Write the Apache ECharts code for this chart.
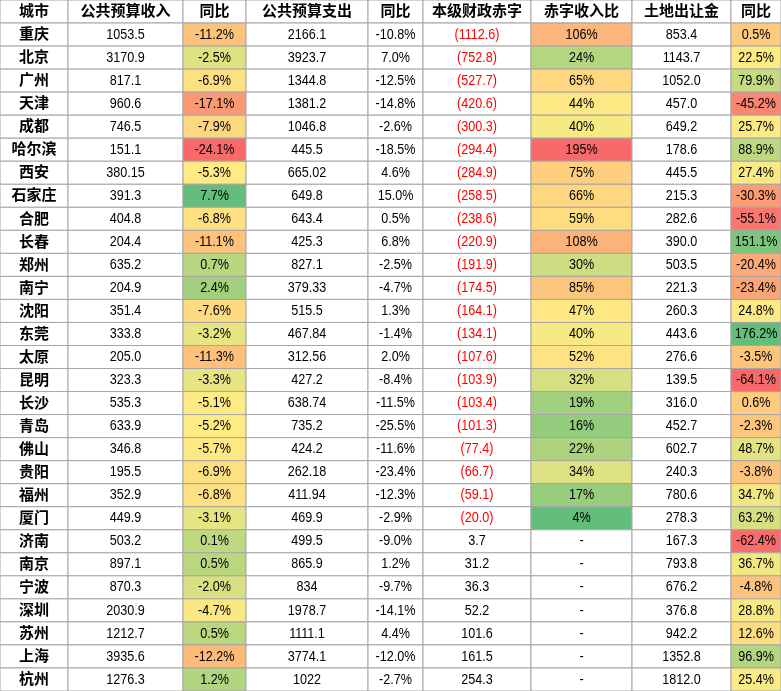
<!DOCTYPE html>
<html lang="zh-CN" style="height: 100%">
<head>
  <meta charset="utf-8">
</head>
<body style="height: 100%; margin: 0; background: #fff">
  <div id="container" style="width: 781px; height: 691px"></div>
  <script type="text/javascript" src="https://fastly.jsdelivr.net/npm/echarts@6.0.0/dist/echarts.min.js"></script>
  <script type="text/javascript">
const headers = ['城市', '公共预算收入', '同比', '公共预算支出', '同比', '本级财政赤字', '赤字收入比', '土地出让金', '同比'];
const cities = ['重庆','北京','广州','天津','成都','哈尔滨','西安','石家庄','合肥','长春','郑州','南宁','沈阳','东莞','太原','昆明','长沙','青岛','佛山','贵阳','福州','厦门','济南','南京','宁波','深圳','苏州','上海','杭州'];
const revenue = ['1053.5','3170.9','817.1','960.6','746.5','151.1','380.15','391.3','404.8','204.4','635.2','204.9','351.4','333.8','205.0','323.3','535.3','633.9','346.8','195.5','352.9','449.9','503.2','897.1','870.3','2030.9','1212.7','3935.6','1276.3'];
const revenueYoy = [-11.2,-2.5,-6.9,-17.1,-7.9,-24.1,-5.3,7.7,-6.8,-11.1,0.7,2.4,-7.6,-3.2,-11.3,-3.3,-5.1,-5.2,-5.7,-6.9,-6.8,-3.1,0.1,0.5,-2.0,-4.7,0.5,-12.2,1.2];
const spending = ['2166.1','3923.7','1344.8','1381.2','1046.8','445.5','665.02','649.8','643.4','425.3','827.1','379.33','515.5','467.84','312.56','427.2','638.74','735.2','424.2','262.18','411.94','469.9','499.5','865.9','834','1978.7','1111.1','3774.1','1022'];
const spendingYoy = [-10.8,7.0,-12.5,-14.8,-2.6,-18.5,4.6,15.0,0.5,6.8,-2.5,-4.7,1.3,-1.4,2.0,-8.4,-11.5,-25.5,-11.6,-23.4,-12.3,-2.9,-9.0,1.2,-9.7,-14.1,4.4,-12.0,-2.7];
const deficit = [-1112.6,-752.8,-527.7,-420.6,-300.3,-294.4,-284.9,-258.5,-238.6,-220.9,-191.9,-174.5,-164.1,-134.1,-107.6,-103.9,-103.4,-101.3,-77.4,-66.7,-59.1,-20.0,3.7,31.2,36.3,52.2,101.6,161.5,254.3];
const deficitRatio = [106,24,65,44,40,195,75,66,59,108,30,85,47,40,52,32,19,16,22,34,17,4,null,null,null,null,null,null,null];
const land = ['853.4','1143.7','1052.0','457.0','649.2','178.6','445.5','215.3','282.6','390.0','503.5','221.3','260.3','443.6','276.6','139.5','316.0','452.7','602.7','240.3','780.6','278.3','167.3','793.8','676.2','376.8','942.2','1352.8','1812.0'];
const landYoy = [0.5,22.5,79.9,-45.2,25.7,88.9,27.4,-30.3,-55.1,151.1,-20.4,-23.4,24.8,176.2,-3.5,-64.1,0.6,-2.3,48.7,-3.8,34.7,63.2,-62.4,36.7,-4.8,28.8,12.6,96.9,25.4];

// layout
const colEdges = [0, 68, 183, 246, 368, 423, 531, 632, 731, 781];
const RED = [248, 105, 107], YEL = [255, 235, 132], GRN = [99, 190, 123];

function median(arr) {
  const s = arr.filter(v => v != null).slice().sort((a, b) => a - b);
  const m = Math.floor(s.length / 2);
  return s.length % 2 ? s[m] : (s[m - 1] + s[m]) / 2;
}
function mix(a, b, t) {
  return 'rgb(' + a.map((v, i) => Math.round(v + (b[i] - v) * t)).join(',') + ')';
}
function scale(arr, lowColor, highColor) {
  const vals = arr.filter(v => v != null);
  const mn = Math.min.apply(null, vals), mx = Math.max.apply(null, vals), md = median(arr);
  return arr.map(v => {
    if (v == null) return '#fff';
    if (v <= md) return mix(lowColor, YEL, (v - mn) / (md - mn));
    return mix(YEL, highColor, (v - md) / (mx - md));
  });
}
const revColors = scale(revenueYoy, RED, GRN);
const ratioColors = scale(deficitRatio, GRN, RED);
const landColors = scale(landYoy, RED, GRN);

const pct = v => v.toFixed(1) + '%';
const cells = [];
headers.forEach((h, c) => cells.push({ value: [c, 0], text: h, bold: true, fill: '#fff', color: '#000', cn: true }));
cities.forEach((city, i) => {
  const r = i + 1;
  const d = deficit[i];
  const row = [
    { text: city, bold: true, cn: true },
    { text: revenue[i] },
    { text: pct(revenueYoy[i]), fill: revColors[i] },
    { text: spending[i] },
    { text: pct(spendingYoy[i]) },
    { text: d < 0 ? '(' + (-d).toFixed(1) + ')' : d.toFixed(1), color: d < 0 ? '#ff0000' : '#000' },
    { text: deficitRatio[i] == null ? '-' : deficitRatio[i] + '%', fill: ratioColors[i] },
    { text: land[i] },
    { text: pct(landYoy[i]), fill: landColors[i] }
  ];
  row.forEach((cell, c) => cells.push(Object.assign({ value: [c, r], fill: '#fff', color: '#000' }, cell)));
});

const rows = ['header'].concat(cities);
const chart = echarts.init(document.getElementById('container'));
chart.setOption({
  animation: false,
  grid: { left: 0, right: 0, top: 0, bottom: 0 },
  xAxis: { type: 'value', min: 0, max: 781, show: false },
  yAxis: { type: 'category', data: rows, inverse: true, show: false },
  series: [{
    type: 'custom',
    data: cells,
    renderItem: function (params, api) {
      const c = api.value(0), r = api.value(1);
      const item = cells[params.dataIndex];
      const p0 = api.coord([colEdges[c], r]);
      const p1 = api.coord([colEdges[c + 1], r]);
      const h = api.size([0, 1])[1];
      const x = p0[0], y = p0[1] - h / 2, w = p1[0] - p0[0];
      return {
        type: 'group',
        children: [
          { type: 'rect', shape: { x: x, y: y, width: w, height: h },
            style: { fill: item.fill, stroke: '#a6a6a6', lineWidth: 1 } },
          { type: 'text', x: x + w / 2, y: y + h / 2 + (item.cn ? -1 : 0),
            scaleX: item.cn ? 1 : 0.84,
            style: { text: item.text, align: 'center', verticalAlign: 'middle', fill: item.color,
              fontSize: 15, fontWeight: item.bold ? 'bold' : 'normal',
              fontFamily: item.cn ? 'Noto Sans CJK SC' : '"Liberation Sans", sans-serif' } }
        ]
      };
    }
  }]
});
  </script>
</body>
</html>
